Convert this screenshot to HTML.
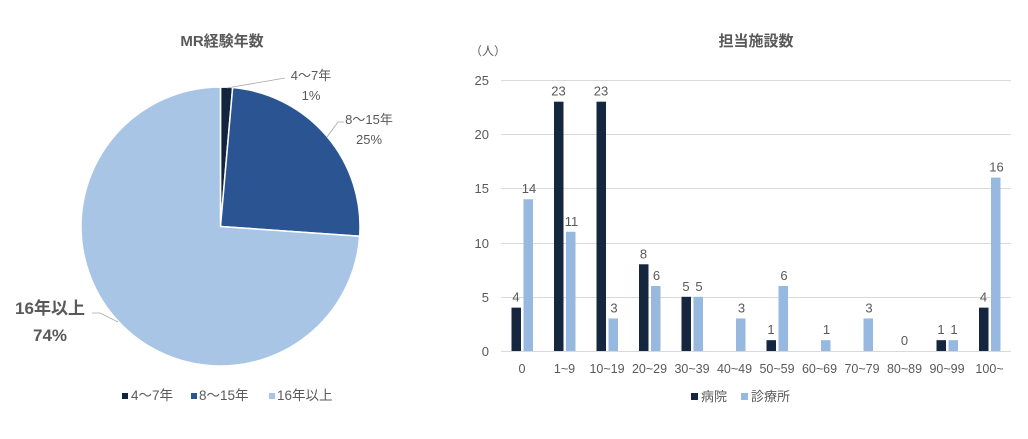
<!DOCTYPE html>
<html><head><meta charset="utf-8"><style>
body{margin:0;background:#fff;}
svg text{font-family:"Liberation Sans","Noto Sans CJK JP",sans-serif;fill:#595959;}
</style></head><body>
<svg width="1028" height="434" viewBox="0 0 1028 434" xmlns="http://www.w3.org/2000/svg">
<rect width="1028" height="434" fill="#fff"/>
<!-- Pie -->
<text x="222" y="46" font-size="15" font-weight="bold" text-anchor="middle">MR経験年数</text>
<g stroke="#fff" stroke-width="1.5">
<path d="M220.5,226.5 L220.5,87 A139.5,139.5 0 0 1 232.66,87.53 Z" fill="#13253e"/>
<path d="M220.5,226.5 L232.66,87.53 A139.5,139.5 0 0 1 359.66,236.23 Z" fill="#2a5592"/>
<path d="M220.5,226.5 L359.66,236.23 A139.5,139.5 0 1 1 220.5,87 Z" fill="#a9c5e6"/>
</g>
<polyline points="227,88 285,78" fill="none" stroke="#a6a6a6" stroke-width="0.8"/>
<polyline points="327,137 338,122 344,122" fill="none" stroke="#a6a6a6" stroke-width="0.8"/>
<polyline points="118,322 100,313 92,313" fill="none" stroke="#a6a6a6" stroke-width="0.8"/>
<text x="311" y="80" font-size="13" text-anchor="middle">4～7年</text>
<text x="311" y="100" font-size="13" text-anchor="middle">1%</text>
<text x="369" y="124" font-size="13" text-anchor="middle">8～15年</text>
<text x="369" y="144" font-size="13" text-anchor="middle">25%</text>
<text x="50" y="314" font-size="17" font-weight="bold" text-anchor="middle">16年以上</text>
<text x="50" y="341" font-size="17" font-weight="bold" text-anchor="middle">74%</text>
<rect x="122" y="393" width="6" height="6" fill="#13253e"/>
<text x="131" y="400" font-size="13.5">4～7年</text>
<rect x="191" y="393" width="6" height="6" fill="#2a5592"/>
<text x="199" y="400" font-size="13.5">8～15年</text>
<rect x="269" y="393" width="6" height="6" fill="#a9c5e6"/>
<text x="277" y="400" font-size="13.5">16年以上</text>

<!-- Bar chart -->
<text x="756" y="46" font-size="15" font-weight="bold" text-anchor="middle">担当施設数</text>
<text x="470" y="55" font-size="12">（人）</text>
<g stroke="#d9d9d9" stroke-width="1">
<line x1="501" y1="80.5" x2="1011" y2="80.5"/>
<line x1="501" y1="134.5" x2="1011" y2="134.5"/>
<line x1="501" y1="188.5" x2="1011" y2="188.5"/>
<line x1="501" y1="243.5" x2="1011" y2="243.5"/>
<line x1="501" y1="297.5" x2="1011" y2="297.5"/>
<line x1="501" y1="351.5" x2="1011" y2="351.5"/>
</g>
<g font-size="13" text-anchor="end">
<text x="489" y="85">25</text><text x="489" y="139">20</text><text x="489" y="193">15</text>
<text x="489" y="248">10</text><text x="489" y="302">5</text><text x="489" y="356">0</text>
</g>
<g id="bars"></g>
<g font-size="12.5" text-anchor="middle" id="xl"></g>
<rect x="691" y="393" width="7" height="7" fill="#14273f"/>
<text x="701" y="401" font-size="13">病院</text>
<rect x="741" y="393" width="7" height="7" fill="#97b9e0"/>
<text x="751" y="401" font-size="13">診療所</text>
<script>
var cats=["0","1~9","10~19","20~29","30~39","40~49","50~59","60~69","70~79","80~89","90~99","100~"];
var h=[4,23,23,8,5,0,1,0,0,0,1,4], c=[14,11,3,6,5,3,6,1,3,0,1,16];
var ns="http://www.w3.org/2000/svg",b=document.getElementById("bars"),xl=document.getElementById("xl");
function el(t,a,txt){var e=document.createElementNS(ns,t);for(var k in a)e.setAttribute(k,a[k]);if(txt!=null)e.textContent=txt;return e;}
var u=10.84;
for(var i=0;i<12;i++){
 var cx=522+i*42.5;
 if(h[i]>0)b.appendChild(el("rect",{x:cx-10.5,y:351-h[i]*u,width:9.5,height:h[i]*u,fill:"#14273f"}));
 if(c[i]>0)b.appendChild(el("rect",{x:cx+1.5,y:351-c[i]*u,width:9.5,height:c[i]*u,fill:"#97b9e0"}));
 if(i==9){b.appendChild(el("text",{x:cx,y:345,"font-size":13,"text-anchor":"middle"},"0"));}
 else{
 if(h[i]>0)b.appendChild(el("text",{x:cx-6,y:345-h[i]*u,"font-size":13,"text-anchor":"middle"},String(h[i])));
 if(c[i]>0)b.appendChild(el("text",{x:cx+7,y:345-c[i]*u,"font-size":13,"text-anchor":"middle"},String(c[i])));
 }
 xl.appendChild(el("text",{x:cx,y:373},cats[i]));
}
</script>
</svg>
</body></html>
